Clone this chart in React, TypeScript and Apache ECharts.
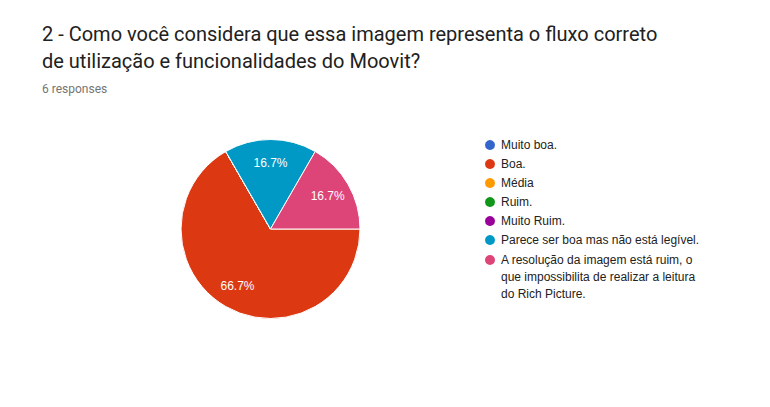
import React, { useEffect, useRef } from "react";
import * as echarts from "echarts";

const titleLines = [
  "2 - Como você considera que essa imagem representa o fluxo correto",
  "de utilização e funcionalidades do Moovit?",
];
const subtitle = "6 responses";
const categories = [
  "Muito boa.",
  "Boa.",
  "Média",
  "Ruim.",
  "Muito Ruim.",
  "Parece ser boa mas não está legível.",
  "A resolução da imagem está ruim, o que impossibilita de realizar a leitura do Rich Picture.",
];
const legendLabels = [
  "Muito boa.",
  "Boa.",
  "Média",
  "Ruim.",
  "Muito Ruim.",
  "Parece ser boa mas não está legível.",
  "A resolução da imagem está ruim, o\nque impossibilita de realizar a leitura\ndo Rich Picture.",
];
const counts = [0, 4, 0, 0, 0, 1, 1];
const colors = ["#3366cc", "#dc3912", "#ff9900", "#109618", "#990099", "#0099c6", "#dd4477"];

// circle icon aligned with the first of three 17px text lines
const tallIcon =
  "path://M6,0L6,0M0,8.5A6,6 0 1,0 12,8.5A6,6 0 1,0 0,8.5ZM6,51L6,51";

export default function App() {
  const ref = useRef<HTMLDivElement>(null);
  useEffect(() => {
    if (!ref.current) return;
    const chart = echarts.init(ref.current, undefined, { renderer: "svg" });
    const total = counts.reduce((a, b) => a + b, 0);
    const data = categories.map((name, i) => ({
      name,
      value: counts[i],
      itemStyle: { color: colors[i] },
    }));
    const labelData = categories.map((name, i) => ({
      name,
      value: counts[i],
      itemStyle: { color: "rgba(0,0,0,0)" },
    }));
    const legendFont = {
      fontFamily: "Liberation Sans, Arial, sans-serif",
      fontSize: 12,
      color: "#222222",
      lineHeight: 17,
    };
    const fmt = (name: string) => legendLabels[categories.indexOf(name)] ?? name;
    chart.setOption({
      animation: false,
      backgroundColor: "#ffffff",
      title: {
        text: titleLines.join("\n"),
        subtext: subtitle,
        left: 42,
        top: 20,
        padding: 0,
        itemGap: 8,
        textStyle: {
          fontFamily: "Roboto",
          fontSize: 20,
          fontWeight: "normal",
          color: "#212121",
          lineHeight: 27,
        },
        subtextStyle: {
          fontFamily: "Roboto",
          fontSize: 12,
          color: "#757575",
          lineHeight: 14,
        },
      },
      legend: [
        {
          orient: "vertical",
          left: 483,
          top: 136.5,
          padding: 0,
          itemWidth: 12,
          itemHeight: 12,
          itemGap: 2,
          icon: "circle",
          selectedMode: false,
          formatter: fmt,
          textStyle: legendFont,
          data: categories.slice(0, categories.length - 1),
        },
        {
          orient: "vertical",
          left: 483,
          top: 250.5,
          padding: 0,
          itemWidth: 12,
          itemHeight: 51,
          itemGap: 2,
          icon: tallIcon,
          selectedMode: false,
          formatter: fmt,
          textStyle: legendFont,
          data: categories.slice(categories.length - 1),
        },
      ],
      series: [
        {
          type: "pie",
          center: [270.5, 229],
          radius: [0, 89.5],
          startAngle: 0,
          clockwise: true,
          silent: true,
          itemStyle: { borderColor: "#ffffff", borderWidth: 1 },
          label: { show: false },
          labelLine: { show: false },
          data,
        },
        {
          type: "pie",
          center: [270.5, 229],
          radius: [0, 126],
          startAngle: 0,
          clockwise: true,
          silent: true,
          label: {
            show: true,
            position: "inside",
            color: "#ffffff",
            fontFamily: "Liberation Sans, Arial, sans-serif",
            fontSize: 12,
            formatter: (p: any) =>
              p.value > 0 ? ((p.value / total) * 100).toFixed(1) + "%" : "",
          },
          labelLine: { show: false },
          data: labelData,
        },
      ],
    });
    return () => chart.dispose();
  }, []);
  return (
    <div
      ref={ref}
      style={{ position: "fixed", left: 0, top: 0, width: 770, height: 407 }}
    />
  );
}
